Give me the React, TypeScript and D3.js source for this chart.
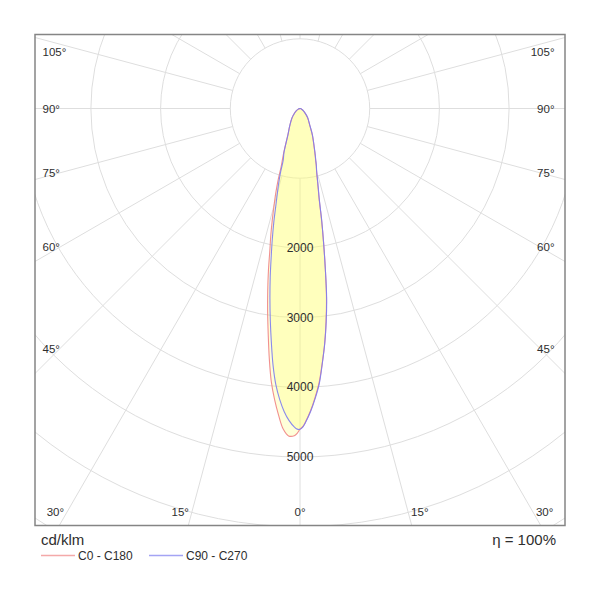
import React from "react";
import * as d3 from "d3";

// ---- data (cd/klm) ----
const gammas = [0, 0.5, 1, 2, 3, 4, 5, 6, 7, 8, 9, 10, 11, 12, 13, 14, 15, 16, 17, 18, 20, 25, 30, 40, 50, 60, 70, 80, 90];
const c0 = [4600, 4565, 4500, 4340, 4150, 3940, 3665, 3390, 3070, 2730, 2320, 1950, 1610, 1315, 1150, 1015, 915, 845, 765, 704, 595, 420, 282, 168, 85, 42, 20, 8, 0];
const c180 = [4600, 4660, 4695, 4700, 4605, 4410, 4190, 3940, 3615, 3275, 2968, 2668, 2375, 2081, 1860, 1640, 1440, 1260, 1075, 870, 695, 408, 298, 182, 102, 55, 26, 9, 0];
const c90 = [4602, 4570, 4505, 4350, 4165, 3960, 3672, 3392, 3084, 2747, 2318, 1940, 1627, 1330, 1163, 1027, 921, 851, 772, 712, 602, 424, 285, 170, 87, 43, 20, 8, 0];
const c270 = [4602, 4600, 4572, 4481, 4352, 4183, 3977, 3702, 3375, 3063, 2759, 2462, 2165, 1908, 1669, 1430, 1253, 1103, 948, 779, 671, 402, 300, 180, 100, 55, 26, 9, 0];

const rings = [1000, 2000, 3000, 4000, 5000, 6000, 7000];
const ringLabels = [2000, 3000, 4000, 5000];
const spokeAngles = d3.range(0, 360, 15);
const angleLabels = [0, 15, 30, 45, 60, 75, 90, 105];
const unitLabel = "cd/klm";
const effLabel = "η = 100%";
const series = [
  { name: "C0 - C180", left: c180, right: c0, color: "#f08484" },
  { name: "C90 - C270", left: c270, right: c90, color: "#7d7df0" },
];

const W = 600, H = 600;
const frame = { left: 35, top: 34.5, right: 565, bottom: 525.5 };
const cx = 300, cy = 108.5;
const r = d3.scaleLinear().domain([0, 1000]).range([0, 69.7]);
const FONT = "'Liberation Sans', Arial, Helvetica, sans-serif";
const TXT = "#2e2e2e";
const rad = (d: number) => (d * Math.PI) / 180;

function curvePath(left: number[], right: number[]) {
  const pts: [number, number][] = [];
  for (let i = gammas.length - 1; i >= 0; i--) pts.push([Math.PI + rad(gammas[i]), r(left[i])]);
  for (let i = 1; i < gammas.length; i++) pts.push([Math.PI - rad(gammas[i]), r(right[i])]);
  const line = d3
    .lineRadial<[number, number]>()
    .angle((d) => d[0])
    .radius((d) => d[1])
    .curve(d3.curveCatmullRom.alpha(0.5));
  return line(pts) + "Z";
}

function angleLabelPos(a: number, s: number) {
  if (a >= 45) {
    const xSpoke = s < 0 ? frame.left + 25 : frame.right - 25;
    const dx = Math.abs(xSpoke - cx);
    let y = a === 90 ? cy : cy + dx / Math.tan(rad(a));
    y = Math.max(y, frame.top + 17.5);
    const x = s < 0 ? frame.left + 7.5 : frame.right - 10.5;
    return { x, y, anchor: s < 0 ? "start" : "end" };
  }
  const y = frame.bottom - 13.5;
  const dy = y - cy;
  if (a === 0) return { x: cx, y, anchor: "middle" };
  const x = cx + s * dy * Math.tan(rad(a)) + s * 3;
  return { x, y, anchor: s < 0 ? "end" : "start" };
}

export default function App() {
  const fw = frame.right - frame.left;
  const fh = frame.bottom - frame.top;
  const labels: { key: string; x: number; y: number; anchor: string; text: string }[] = [];
  angleLabels.forEach((a) => {
    const sides = a === 0 ? [0] : [-1, 1];
    sides.forEach((s) => {
      const p = angleLabelPos(a, s);
      labels.push({ key: `${a}_${s}`, ...p, text: `${a}°` });
    });
  });

  return (
    <svg
      width={W}
      height={H}
      viewBox={`0 0 ${W} ${H}`}
      style={{ position: "absolute", left: 0, top: 0, background: "#fff" }}
      fontFamily={FONT}
    >
      <defs>
        <clipPath id="frameClip">
          <rect x={frame.left} y={frame.top} width={fw} height={fh} />
        </clipPath>
      </defs>
      <rect x={0} y={0} width={W} height={H} fill="#fff" />
      <g clipPath="url(#frameClip)">
        {rings.map((v) => (
          <circle key={v} cx={cx} cy={cy} r={r(v)} fill="none" stroke="#dedede" strokeWidth={1} />
        ))}
        {spokeAngles.map((a) => {
          const r0 = r(1000), r1 = r(9000);
          return (
            <line
              key={a}
              x1={cx + Math.sin(rad(a)) * r0}
              y1={cy + Math.cos(rad(a)) * r0}
              x2={cx + Math.sin(rad(a)) * r1}
              y2={cy + Math.cos(rad(a)) * r1}
              stroke="#dedede"
              strokeWidth={1}
            />
          );
        })}
        <g transform={`translate(${cx},${cy})`}>
          {series.map((s) => (
            <path key={s.name + "f"} d={curvePath(s.left, s.right)} fill="rgb(255,255,120)" fillOpacity={0.28} stroke="none" />
          ))}
          {series.map((s) => (
            <path key={s.name} d={curvePath(s.left, s.right)} fill="none" stroke={s.color} strokeWidth={1.1} strokeOpacity={0.9} />
          ))}
        </g>
      </g>
      <rect x={frame.left} y={frame.top} width={fw} height={fh} fill="none" stroke="#858585" strokeWidth={1.5} />
      {ringLabels.map((v) => (
        <text key={v} x={cx} y={cy + r(v)} textAnchor="middle" dominantBaseline="central" fontSize={12} fill={TXT}>
          {v}
        </text>
      ))}
      {labels.map((l) => (
        <text key={l.key} x={l.x} y={l.y} textAnchor={l.anchor as any} dominantBaseline="central" fontSize={11.5} fill={TXT}>
          {l.text}
        </text>
      ))}
      <text x={frame.left + 6} y={545} fontSize={15} fill={TXT}>{unitLabel}</text>
      <text x={frame.right - 9} y={545} fontSize={15} fill={TXT} textAnchor="end">{effLabel}</text>
      {series.map((s, i) => {
        const x0 = i === 0 ? 41 : 149;
        return (
          <g key={s.name + "leg"}>
            <line x1={x0} x2={x0 + 34} y1={555.5} y2={555.5} stroke={s.color} strokeOpacity={0.7} strokeWidth={1.5} />
            <text x={x0 + 37} y={556} dominantBaseline="central" fontSize={12} fill={TXT}>{s.name}</text>
          </g>
        );
      })}
    </svg>
  );
}
